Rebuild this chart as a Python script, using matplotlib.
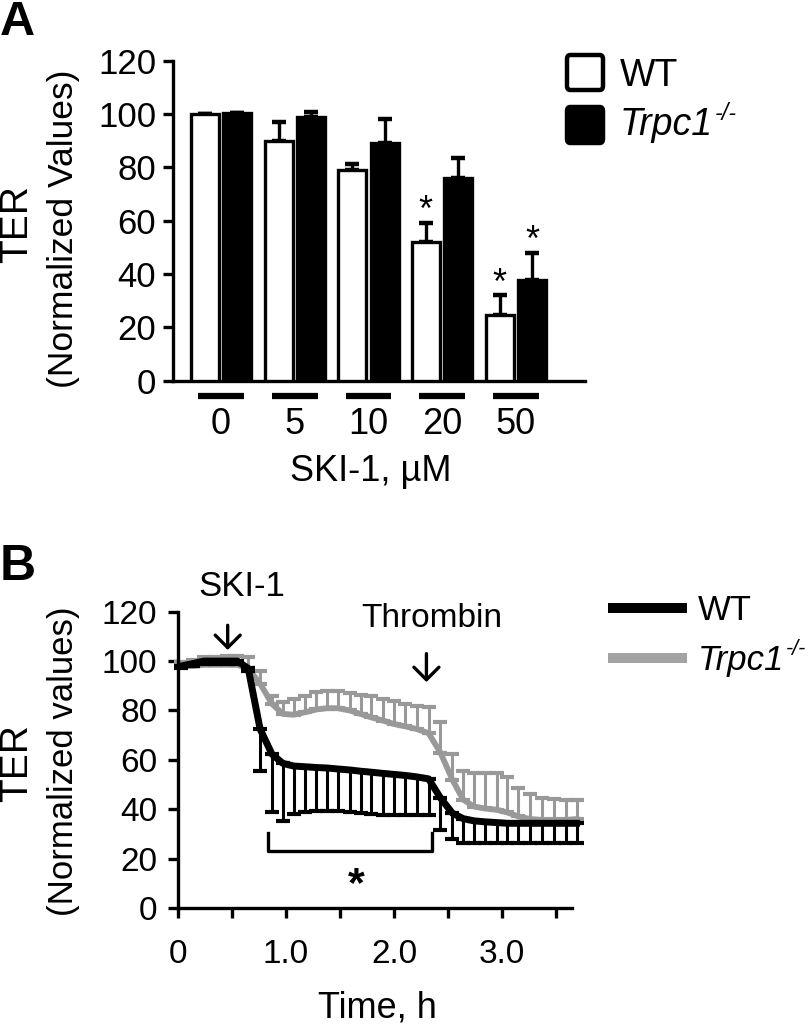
import numpy as np
import matplotlib
matplotlib.use("Agg")
import matplotlib.pyplot as plt
from matplotlib.lines import Line2D
from matplotlib.patches import FancyBboxPatch

plt.rcParams['font.family'] = ['Liberation Sans', 'DejaVu Sans']

# ---------------- data: panel A ----------------
conc_labels = ['0', '5', '10', '20', '50']
wt_mean = [100.0, 90.0, 79.0, 52.0, 24.6]
wt_sem = [0.0, 7.1, 2.3, 7.3, 7.5]
ko_mean = [100.3, 98.8, 89.0, 76.1, 37.8]
ko_sem = [0.0, 1.8, 9.1, 7.6, 10.2]
# significance stars: (group index, series)
stars_a = [(3, 'wt'), (4, 'wt'), (4, 'ko')]

# ---------------- data: panel B ----------------
time_h = [0.03, 0.14, 0.24, 0.34, 0.45, 0.55, 0.65, 0.76, 0.87, 0.97,
          1.07, 1.18, 1.28, 1.38, 1.48, 1.59, 1.69, 1.79, 1.90, 2.00,
          2.10, 2.21, 2.32, 2.43, 2.54, 2.64, 2.74, 2.84, 2.95, 3.05,
          3.15, 3.26, 3.37, 3.48, 3.59, 3.69]
wt_ter = [98.0, 99.0, 100.0, 100.0, 100.0, 100.0, 97.0, 72.5, 62.3, 58.6,
          57.5, 57.2, 56.9, 56.7, 56.3, 55.9, 55.4, 55.0, 54.5, 54.1,
          53.7, 53.1, 52.3, 44.6, 38.4, 36.2, 35.3, 34.9, 34.6, 34.3,
          34.3, 34.3, 34.3, 34.3, 34.3, 34.3]
wt_low = [97.0, 98.0, 99.0, 99.0, 99.0, 99.0, 96.0, 55.4, 38.7, 35.3,
          38.1, 38.8, 39.1, 39.4, 39.1, 38.7, 38.4, 38.0, 37.7, 37.7,
          37.7, 37.7, 37.7, 31.6, 27.8, 26.4, 26.4, 26.4, 26.4, 26.4,
          26.4, 26.3, 26.3, 26.2, 26.2, 26.2]
ko_ter = [98.0, 98.0, 98.5, 98.5, 98.5, 98.5, 97.0, 90.9, 82.7, 78.6,
          78.3, 79.3, 80.4, 80.9, 80.9, 80.0, 78.6, 77.2, 75.9, 74.5,
          73.6, 72.5, 70.8, 62.9, 52.0, 43.9, 41.1, 40.3, 39.8, 38.7,
          37.1, 36.0, 35.7, 35.7, 35.7, 36.0]
ko_high = [99.5, 100.5, 101.5, 101.5, 102.0, 102.0, 101.8, 96.0, 85.8, 83.4,
           84.7, 85.8, 87.5, 87.7, 87.7, 87.2, 86.4, 85.8, 84.7, 83.7,
           82.7, 81.7, 81.3, 75.5, 62.3, 55.4, 54.8, 54.8, 54.8, 53.1,
           48.6, 46.3, 44.6, 44.3, 43.9, 43.9]

W, H = 811, 1028
GRAY = '#999999'
LEG_GRAY = '#a3a3a3'

fig = plt.figure(figsize=(W / 100, H / 100), dpi=100)


def fx(px):
    return px / W


def fy(py):
    return 1 - py / H


# ================= Panel A =================
axA = fig.add_axes([fx(173), fy(380.7), (585 - 173) / W, (380.7 - 60.7) / H])
x = np.arange(len(conc_labels))
off = 0.22
bw = 0.38
axA.bar(x - off, wt_mean, width=bw, color='white', edgecolor='black',
        linewidth=2.4, zorder=3)
axA.bar(x + off, ko_mean, width=bw, color='black', edgecolor='black',
        linewidth=2.4, zorder=3)
zeros = np.zeros(len(x))
axA.errorbar(x - off, wt_mean, yerr=[zeros, wt_sem], fmt='none', ecolor='black',
             elinewidth=2.4, capsize=5, capthick=3.2, zorder=2)
axA.errorbar(x + off, ko_mean, yerr=[zeros, ko_sem], fmt='none', ecolor='black',
             elinewidth=2.4, capsize=5, capthick=3.2, zorder=2)
for gi, ser in stars_a:
    if ser == 'wt':
        xs, top = x[gi] - off, wt_mean[gi] + wt_sem[gi]
    else:
        xs, top = x[gi] + off, ko_mean[gi] + ko_sem[gi]
    axA.text(xs, top + 0.6, '*', ha='center', va='baseline', fontsize=26)

# group underline bars
for xi in x:
    axA.plot([xi - 0.31, xi + 0.31], [-5.7, -5.7], color='black', lw=4.5,
             solid_capstyle='butt', clip_on=False)

axA.set_xlim(-0.652, 4.94)
axA.set_ylim(0, 120)
axA.set_yticks(np.arange(0, 121, 20))
axA.set_xticks(x)
axA.set_xticklabels(conc_labels)
axA.tick_params(axis='x', length=0, pad=19, labelsize=26)
axA.tick_params(axis='y', length=7, width=2.4, pad=5, labelsize=25)
for s in ['top', 'right']:
    axA.spines[s].set_visible(False)
for s in ['left', 'bottom']:
    axA.spines[s].set_linewidth(2.4)

fig.text(fx(371), fy(481), 'SKI-1, \u00b5M', ha='center', va='baseline', fontsize=26)
fig.text(fx(17), fy(224), 'TER', rotation=90, ha='center', va='center', fontsize=28)
fig.text(fx(64), fy(229), '(Normalized Values)', rotation=90, ha='center',
         va='center', fontsize=25.5)
fig.text(fx(0), fy(35), 'A', fontsize=35, fontweight='bold', ha='left', va='baseline')

# legend A (boxes)
for (y0, y1), fc in [((53, 92), 'white'), ((105, 145), 'black')]:
    box = FancyBboxPatch((fx(567), fy(y1 - 2)), (603 - 567) / W, (y1 - y0 - 4) / H,
                         boxstyle='round,pad=0,rounding_size=0.004',
                         transform=fig.transFigure, facecolor=fc,
                         edgecolor='black', linewidth=3.2)
    fig.add_artist(box)

# ================= Panel B =================
axB = fig.add_axes([fx(178), fy(908), (571.7 - 178) / W, (908 - 611.7) / H])
t = np.array(time_h)
ko = np.array(ko_ter)
wt = np.array(wt_ter)
zt = np.zeros(len(t))


def unclip(container):
    for a in container.get_children():
        a.set_clip_on(False)


eb1 = axB.errorbar(t, ko, yerr=[zt, np.array(ko_high) - ko], fmt='none',
                   ecolor=GRAY, elinewidth=2.2, capsize=5, capthick=3.0, zorder=2)
unclip(eb1)
axB.plot(t, ko, color=GRAY, lw=4.2, zorder=3, clip_on=False,
         solid_joinstyle='round')
eb2 = axB.errorbar(t, wt, yerr=[wt - np.array(wt_low), zt], fmt='none',
                   ecolor='black', elinewidth=2.2, capsize=5, capthick=3.0, zorder=4)
unclip(eb2)
axB.plot(t, wt, color='black', lw=5.0, zorder=5, clip_on=False,
         solid_joinstyle='round')

# significance bracket
axB.plot([0.835, 0.835, 2.35, 2.35], [30.2, 23.2, 23.2, 30.2], color='black',
         lw=2.4, zorder=6)
axB.text(1.654, 5.0, '*', ha='center', va='baseline', fontsize=31,
         fontweight='bold')

# treatment arrows
arrow_kw = dict(arrowstyle='->,head_length=0.45,head_width=0.45', lw=2.4,
                color='black', mutation_scale=20, shrinkA=0, shrinkB=0)
axB.annotate('', xy=(0.46, 104.5), xytext=(0.46, 114.5), arrowprops=arrow_kw,
             annotation_clip=False)
axB.annotate('', xy=(2.30, 91.5), xytext=(2.30, 103.0), arrowprops=arrow_kw,
             annotation_clip=False)
axB.text(0.59, 126.5, 'SKI-1', ha='center', va='baseline', fontsize=25,
         clip_on=False)
axB.text(2.35, 114.0, 'Thrombin', ha='center', va='baseline', fontsize=24,
         clip_on=False)

axB.set_xlim(0, 3.645)
axB.set_ylim(0, 120)
axB.set_yticks(np.arange(0, 121, 20))
axB.set_xticks(np.arange(0, 3.51, 0.5))
axB.set_xticklabels(['0', '', '1.0', '', '2.0', '', '3.0', ''])
axB.tick_params(axis='x', length=7, width=2.4, pad=15, labelsize=24)
axB.tick_params(axis='y', length=7, width=2.4, pad=8, labelsize=24)
for s in ['top', 'right']:
    axB.spines[s].set_visible(False)
for s in ['left', 'bottom']:
    axB.spines[s].set_linewidth(2.4)

fig.text(fx(377), fy(1018), 'Time, h', ha='center', va='baseline', fontsize=26)
fig.text(fx(17), fy(763), 'TER', rotation=90, ha='center', va='center', fontsize=28)
fig.text(fx(64), fy(761), '(Normalized values)', rotation=90, ha='center',
         va='center', fontsize=25)
fig.text(fx(0), fy(580), 'B', fontsize=36, fontweight='bold', ha='left', va='baseline')

# legend B (lines)
fig.add_artist(Line2D([fx(608), fx(687)], [fy(608), fy(608)], color='black', lw=7.2,
                      transform=fig.transFigure, solid_capstyle='butt'))
fig.add_artist(Line2D([fx(608), fx(687)], [fy(658), fy(658)], color=LEG_GRAY, lw=7.2,
                      transform=fig.transFigure, solid_capstyle='butt'))

# legend texts with italic genotype + superscript
fig.canvas.draw()
renderer = fig.canvas.get_renderer()


def geno_label(xpx, ypx_base, size):
    t1 = fig.text(fx(xpx), fy(ypx_base), 'Trpc1', fontsize=size, style='italic',
                  ha='left', va='baseline')
    bb = t1.get_window_extent(renderer=renderer)
    fig.text(bb.x1 / fig.bbox.width + 0.002, fy(ypx_base - 15), '-/-',
             fontsize=size * 0.62, style='italic', ha='left', va='baseline')


fig.text(fx(620), fy(86), 'WT', fontsize=27, ha='left', va='baseline')
geno_label(620, 135, 27)
fig.text(fx(698), fy(620), 'WT', fontsize=25, ha='left', va='baseline')
geno_label(698, 670, 25)

fig.savefig('out.png', dpi=100)
